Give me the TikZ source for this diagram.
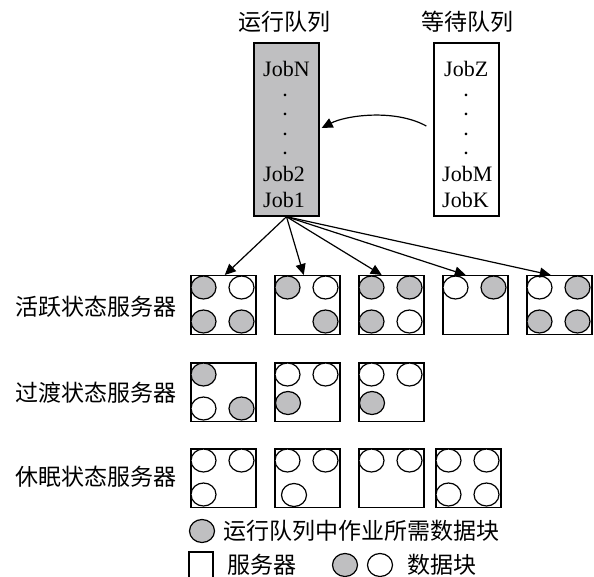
\documentclass[tikz,border=0pt]{standalone}
\usepackage{fontspec}
\setmainfont{Liberation Serif}
\newfontfamily\cjk{Noto Sans CJK SC}
\usetikzlibrary{arrows.meta,calc}
\definecolor{blkgray}{RGB}{191,191,193}
\tikzset{
 qbox/.style={draw=black,line width=1.4pt,minimum width=65pt,minimum height=173pt,inner sep=0pt},
 srv/.style={draw=black,line width=1.5pt,minimum width=65pt,minimum height=58.5pt,inner sep=0pt,anchor=north west},
 blk/.style={draw=black,line width=1.2pt},
 job/.style={font=\fontsize{22}{24}\selectfont,inner sep=0pt,anchor=base west},
 jdots/.style={font=\fontsize{16}{19.33}\selectfont\bfseries,inner sep=0pt,align=center,anchor=center},
 lab/.style={font=\cjk\fontsize{23}{26}\selectfont,inner sep=0pt},
 arr/.style={line width=1.2pt,-{Triangle[length=11pt,width=10pt]}},
}
\newcommand\dblk[4]{\draw[blk,fill=#4] ($(#1.north west)+(#2,#3)$) ellipse [x radius=12.5pt, y radius=11.5pt];}
\begin{document}
\begin{tikzpicture}[x=1pt,y=-1pt]
\useasboundingbox (0,0) rectangle (594,577);
% titles
\node[lab] (runT) at (284,22) {运行队列};
\node[lab] (waitT) at (467,22) {等待队列};
% queues
\node[qbox,fill=blkgray] (run) at (286.5,129.5) {};
\node[qbox,fill=white] (wait) at (466.5,129.5) {};
\node[job] (jN) at (263,77) {JobN};
\node[jdots] (rdots) at (285,124.4) {.\\.\\.\\.};
\node[job] (j2) at (263,182) {Job2};
\node[job] (j1) at (263,208) {Job1};
\node[job] (jZ) at (444,77) {JobZ};
\node[jdots] (wdots) at (466,124.4) {.\\.\\.\\.};
\node[job] (jM) at (442,182) {JobM};
\node[job] (jK) at (442,208) {JobK};
\draw[arr] ($(wait.west)+(-7,-3.5)$) .. controls ($(wait.west)+(-39,-21)$) and ($(run.east)+(26,-14)$) .. ($(run.east)+(2,-1.5)$);
% row labels
\node[lab] (actL) at (96,307) {活跃状态服务器};
\node[lab] (traL) at (96,393) {过渡状态服务器};
\node[lab] (dorL) at (96,477) {休眠状态服务器};
% servers
\node[srv] (a1) at (190,275) {};
\node[srv] (a2) at (274,275) {};
\node[srv] (a3) at (358,275) {};
\node[srv] (a4) at (442,275) {};
\node[srv] (a5) at (526,275) {};
\node[srv] (t1) at (190,362) {};
\node[srv] (t2) at (274,362) {};
\node[srv] (t3) at (358,362) {};
\node[srv] (d1) at (190,448) {};
\node[srv] (d2) at (274,448) {};
\node[srv] (d3) at (358,448) {};
\node[srv] (d4) at (435,448) {};
% blocks
\dblk{a1}{13.5}{12.5}{blkgray}\dblk{a1}{51.5}{12.5}{white}\dblk{a1}{13.5}{46.5}{blkgray}\dblk{a1}{51.5}{46.5}{blkgray}
\dblk{a2}{13.5}{12.5}{blkgray}\dblk{a2}{51.5}{12.5}{white}\dblk{a2}{51.5}{46.5}{blkgray}
\dblk{a3}{13.5}{12.5}{blkgray}\dblk{a3}{51.5}{12.5}{blkgray}\dblk{a3}{13.5}{46.5}{blkgray}\dblk{a3}{51.5}{46.5}{white}
\dblk{a4}{13.5}{12.5}{white}\dblk{a4}{51.5}{12.5}{blkgray}
\dblk{a5}{13.5}{12.5}{white}\dblk{a5}{51.5}{12.5}{blkgray}\dblk{a5}{13.5}{46.5}{blkgray}\dblk{a5}{51.5}{46.5}{blkgray}
\dblk{t1}{13.5}{12.5}{blkgray}\dblk{t1}{13.5}{46.5}{white}\dblk{t1}{51.5}{46.5}{blkgray}
\dblk{t2}{13.5}{12.5}{white}\dblk{t2}{51.5}{12.5}{white}\dblk{t2}{14}{41}{blkgray}
\dblk{t3}{13.5}{12.5}{white}\dblk{t3}{51.5}{12.5}{white}\dblk{t3}{14}{41}{blkgray}
\dblk{d1}{13.5}{12.5}{white}\dblk{d1}{51.5}{12.5}{white}\dblk{d1}{13.5}{46.5}{white}
\dblk{d2}{13.5}{12.5}{white}\dblk{d2}{51.5}{12.5}{white}\dblk{d2}{20}{47}{white}
\dblk{d3}{13.5}{12.5}{white}\dblk{d3}{51.5}{12.5}{white}
\dblk{d4}{13.5}{12.5}{white}\dblk{d4}{51.5}{12.5}{white}\dblk{d4}{13.5}{46.5}{white}\dblk{d4}{51.5}{46.5}{white}
% arrows to active servers
\draw[arr] (run.south) -- ($(a1.north)+(1.5,0)$);
\draw[arr] (run.south) -- ($(a2.north)+(-3.5,0)$);
\draw[arr] (run.south) -- ($(a3.north)+(-9.5,0)$);
\draw[arr] (run.south) -- ($(a4.north)+(-9.5,0)$);
\draw[arr] (run.south) -- ($(a5.north)+(-8.5,0)$);
% legend
\draw[blk,fill=blkgray] (202,531) ellipse [x radius=12.5pt, y radius=11.5pt];
\node[lab,anchor=west] (lg1) at (223,531) {运行队列中作业所需数据块};
\draw[line width=1.3pt] (189,580) -- (189,552) -- (213,552) -- (213,580);
\node[lab,anchor=west] (lg2) at (227,565) {服务器};
\draw[blk,fill=blkgray] (345,565) ellipse [x radius=12.5pt, y radius=11.5pt];
\draw[blk,fill=white] (380,565) ellipse [x radius=12.5pt, y radius=11.5pt];
\node[lab,anchor=west] (lg3) at (407,565) {数据块};
\end{tikzpicture}
\end{document}
